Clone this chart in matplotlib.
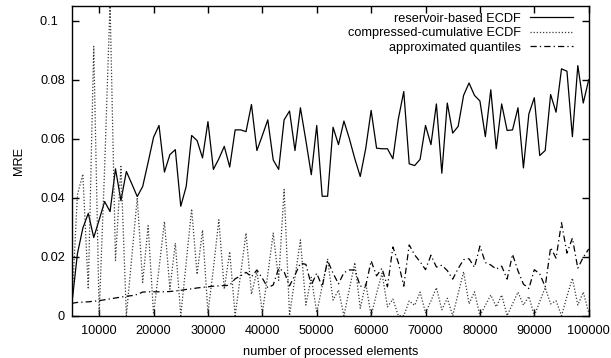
import numpy as np
import matplotlib
matplotlib.use("Agg")
import matplotlib.pyplot as plt

plt.rcParams['font.family'] = ['Liberation Sans', 'DejaVu Sans']

# x positions: number of processed elements
elements = list(range(5000, 100001, 1000))

reservoir_ecdf = [
    0.0043, 0.0210, 0.0297, 0.0347, 0.0265, 0.0325, 0.0387, 0.0353, 0.0498, 0.0390,
    0.0489, 0.0447, 0.0404, 0.0438, 0.0520, 0.0605, 0.0645, 0.0487, 0.0546, 0.0563,
    0.0371, 0.0438, 0.0611, 0.0594, 0.0535, 0.0658, 0.0496, 0.0532, 0.0574, 0.0504,
    0.0630, 0.0630, 0.0624, 0.0716, 0.0560, 0.0611, 0.0664, 0.0528, 0.0496, 0.0664,
    0.0694, 0.0560, 0.0705, 0.0594, 0.0478, 0.0645, 0.0405, 0.0405, 0.0639, 0.0580,
    0.0660, 0.0600, 0.0532, 0.0472, 0.0566, 0.0696, 0.0568, 0.0566, 0.0566, 0.0532,
    0.0667, 0.0760, 0.0515, 0.0509, 0.0530, 0.0645, 0.0580, 0.0718, 0.0483, 0.0721,
    0.0619, 0.0642, 0.0747, 0.0789, 0.0747, 0.0728, 0.0607, 0.0766, 0.0566, 0.0718,
    0.0628, 0.0630, 0.0705, 0.0501, 0.0684, 0.0739, 0.0543, 0.0560, 0.0750, 0.0690,
    0.0837, 0.0829, 0.0607, 0.0848, 0.0721, 0.0800,
]

compressed_ecdf = [
    0.0040, 0.0410, 0.0480, 0.0090, 0.0913, 0.0005, 0.0500, 0.1060, 0.0187, 0.0506,
    0.0000, 0.0200, 0.0400, 0.0113, 0.0305, 0.0005, 0.0160, 0.0319, 0.0090, 0.0246,
    0.0000, 0.0180, 0.0362, 0.0140, 0.0290, 0.0010, 0.0160, 0.0325, 0.0090, 0.0217,
    0.0000, 0.0140, 0.0280, 0.0073, 0.0150, 0.0010, 0.0140, 0.0280, 0.0120, 0.0428,
    0.0000, 0.0130, 0.0257, 0.0036, 0.0130, 0.0010, 0.0100, 0.0191, 0.0053, 0.0087,
    0.0000, 0.0090, 0.0180, 0.0025, 0.0110, 0.0000, 0.0075, 0.0144, 0.0030, 0.0056,
    0.0000, 0.0000, 0.0050, 0.0035, 0.0080, 0.0010, 0.0050, 0.0095, 0.0020, 0.0059,
    0.0000, 0.0075, 0.0149, 0.0040, 0.0081, 0.0000, 0.0035, 0.0070, 0.0030, 0.0070,
    0.0000, 0.0040, 0.0080, 0.0036, 0.0065, 0.0000, 0.0048, 0.0095, 0.0040, 0.0050,
    0.0000, 0.0065, 0.0127, 0.0036, 0.0080, 0.0010,
]

approx_quantiles = [
    0.0042, 0.0045, 0.0046, 0.0047, 0.0049, 0.0051, 0.0054, 0.0057, 0.0060, 0.0063,
    0.0066, 0.0068, 0.0072, 0.0080, 0.0081, 0.0081, 0.0081, 0.0081, 0.0082, 0.0084,
    0.0086, 0.0089, 0.0091, 0.0094, 0.0096, 0.0098, 0.0100, 0.0101, 0.0102, 0.0103,
    0.0125, 0.0135, 0.0147, 0.0132, 0.0155, 0.0127, 0.0095, 0.0104, 0.0161, 0.0149,
    0.0101, 0.0138, 0.0178, 0.0174, 0.0104, 0.0144, 0.0098, 0.0187, 0.0144, 0.0108,
    0.0146, 0.0155, 0.0155, 0.0100, 0.0100, 0.0186, 0.0135, 0.0161, 0.0098, 0.0233,
    0.0180, 0.0100, 0.0240, 0.0206, 0.0183, 0.0156, 0.0205, 0.0165, 0.0171, 0.0153,
    0.0124, 0.0160, 0.0190, 0.0193, 0.0164, 0.0236, 0.0180, 0.0172, 0.0158, 0.0168,
    0.0124, 0.0208, 0.0152, 0.0107, 0.0092, 0.0156, 0.0142, 0.0098, 0.0231, 0.0195,
    0.0315, 0.0212, 0.0263, 0.0161, 0.0198, 0.0226,
]

x_ticks = [10000, 20000, 30000, 40000, 50000, 60000, 70000, 80000, 90000, 100000]
y_ticks = [0, 0.02, 0.04, 0.06, 0.08, 0.1]
# gnuplot leaves "0.1" one digit short of the other labels' right edge
y_tick_labels = ["0", "0.02", "0.04", "0.06", "0.08", "0.1\u2007"]

fig = plt.figure(figsize=(6.11, 3.58), dpi=100)
ax = fig.add_axes([0.1178, 0.1182, 0.9635 - 0.1178, 0.9832 - 0.1182])

lw = 0.9
ax.plot(elements, reservoir_ecdf, color='black', lw=lw, linestyle='-',
        label='reservoir-based ECDF')
ax.plot(elements, compressed_ecdf, color='#3a3a3a', lw=lw, linestyle=(0, (1, 1.5)),
        label='compressed-cumulative ECDF')
ax.plot(elements, approx_quantiles, color='black', lw=lw, linestyle=(0, (5, 2.5, 1, 2.5)),
        label='approximated quantiles')

ax.set_xlim(5000, 100000)
ax.set_ylim(0, 0.105)
ax.set_xticks(x_ticks)
ax.set_xticklabels([str(t) for t in x_ticks])
ax.set_yticks(y_ticks)
ax.set_yticklabels(y_tick_labels)

ax.tick_params(direction='in', length=5, width=1, top=True, right=True,
               labelsize=9.2, colors='black')
ax.tick_params(axis='x', pad=7)
ax.tick_params(axis='y', pad=5)
for sp in ax.spines.values():
    sp.set_linewidth(1.0)

ax.set_xlabel('number of processed elements', fontsize=9.2, labelpad=6)
ax.set_ylabel('MRE', fontsize=9.2, labelpad=11)

leg = ax.legend(loc='upper right', frameon=False, markerfirst=False,
                fontsize=9.2, handlelength=3.4, handletextpad=0.7,
                labelspacing=0.2, borderaxespad=0.4,
                bbox_to_anchor=(0.99, 1.012))

fig.savefig('out.png', dpi=100)
